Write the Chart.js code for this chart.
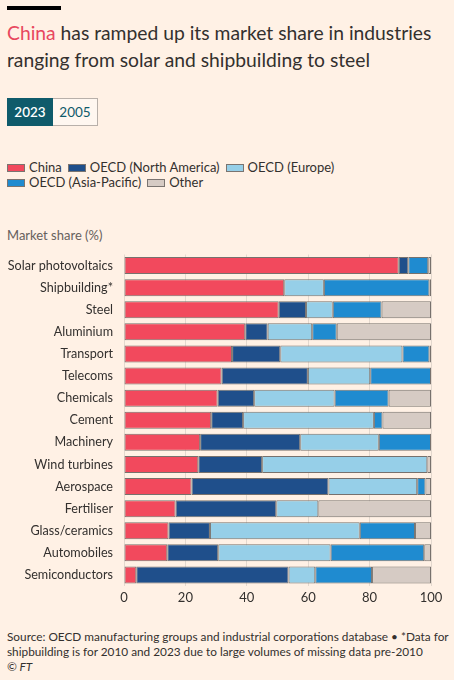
<!DOCTYPE html>
<html>
<head>
<meta charset="utf-8">
<script src="https://cdn.jsdelivr.net/npm/chart.js@4.4.1/dist/chart.umd.min.js"></script>
<style>
  body { margin: 0; background: #fff1e5; font-family: Lato, sans-serif; color: #33302e; }
  #page { position: relative; width: 454px; height: 680px; overflow: hidden; }
  .topbar { position: absolute; left: 7px; top: 6px; width: 54px; height: 4px; background: #000; }
  .title { position: absolute; left: 7px; top: 19px; width: 445px; font-size: 19.3px; line-height: 27px; }
  .title .hl { color: #e8475e; }
  .btns { position: absolute; left: 7px; top: 98px; display: flex; font-size: 13.5px; }
  .btn { width: 44px; height: 26px; line-height: 26px; text-align: center; border: 1px solid #0f5b6b; }
  .btn.on { background: #0f5b6b; color: #fff; font-weight: 600; }
  .btn.off { background: #fff7f0; color: #0f5b6b; border-color: #b8b0aa; border-left: none; }
  .legend { position: absolute; left: 7px; top: 160px; width: 440px; font-size: 13px; line-height: 15px; }
  .legend span.item { display: inline-block; margin-right: 6px; white-space: nowrap; }
  .legend i { display: inline-block; width: 18px; height: 8px; margin-right: 4px; border: 1px solid #7a7470; box-sizing: border-box; vertical-align: 0px; }
  .unit { position: absolute; left: 7px; top: 227px; font-size: 13px; color: #66605c; }
  #wrap { position: absolute; left: 0; top: 250px; width: 454px; height: 360px; }
  .source { position: absolute; left: 7px; top: 629px; width: 445px; font-size: 11.8px; line-height: 15px; }
</style>
</head>
<body>
<div id="page">
  <div class="topbar"></div>
  <div class="title"><span class="hl">China</span> has ramped up its market share in industries ranging from solar and shipbuilding to steel</div>
  <div class="btns"><div class="btn on">2023</div><div class="btn off">2005</div></div>
  <div class="legend" id="legend"></div>
  <div class="unit">Market share (%)</div>
  <div id="wrap"><canvas id="myChart"></canvas></div>
  <div class="source">Source: OECD manufacturing groups and industrial corporations database &bull; *Data for shipbuilding is for 2010 and 2023 due to large volumes of missing data pre-2010<br><i>&copy; FT</i></div>
</div>
<script>
var industries = ["Solar photovoltaics", "Shipbuilding*", "Steel", "Aluminium", "Transport", "Telecoms",
    "Chemicals", "Cement", "Machinery", "Wind turbines", "Aerospace", "Fertiliser",
    "Glass/ceramics", "Automobiles", "Semiconductors"];

var china =       [89.5, 52.2, 50.4, 39.5, 35.2, 31.8, 30.5, 28.4, 24.8, 24.2, 22.0, 16.8, 14.5, 14.1, 4.0];
var northAmerica = [3.1, 0.0, 8.9, 7.3, 15.7, 28.1, 11.9, 10.4, 32.6, 20.8, 44.6, 32.8, 13.5, 16.6, 49.6];
var europe =       [0.0, 12.9, 8.7, 14.5, 39.8, 20.3, 26.2, 42.6, 25.6, 53.8, 28.9, 13.7, 48.8, 36.6, 8.7];
var asiaPacific =  [6.5, 34.4, 15.9, 8.0, 8.8, 19.8, 17.6, 2.8, 17.0, 0.0, 2.7, 0.0, 18.0, 30.5, 18.5];
var other =        [0.9, 0.5, 16.1, 30.7, 0.5, 0.0, 13.8, 15.8, 0.0, 1.2, 1.8, 36.7, 5.2, 2.2, 19.2];

var xTicks = [0, 20, 40, 60, 80, 100];

var seriesNames = ["China", "OECD (North America)", "OECD (Europe)", "OECD (Asia-Pacific)", "Other"];
var seriesData = [china, northAmerica, europe, asiaPacific, other];
var colors = ["#f2495d", "#1f4f8b", "#96cfe8", "#1f8bd0", "#d6cbc4"];

// legend
var legendHtml = '';
for (var i = 0; i < seriesNames.length; i++) {
    legendHtml += '<span class="item"><i style="background:' + colors[i] + '"></i>' + seriesNames[i] + '</span>';
    if (i == 2) {
        legendHtml += '<br>';
    }
}
document.getElementById('legend').innerHTML = legendHtml;

var datasets = [];
for (var i = 0; i < seriesNames.length; i++) {
    datasets.push({
        label: seriesNames[i],
        data: seriesData[i],
        backgroundColor: colors[i],
        borderColor: "#77716d",
        borderWidth: 1,
        borderSkipped: false,
        barPercentage: 0.77,
        categoryPercentage: 1.0
    });
}

var ctx = document.getElementById("myChart");
var myChart = new Chart(ctx, {
    type: 'bar',
    data: {
        labels: industries,
        datasets: datasets
    },
    options: {
        indexAxis: 'y',
        responsive: true,
        maintainAspectRatio: false,
        animation: false,
        layout: {
            padding: {left: 0, right: 23, top: 4.5, bottom: 0}
        },
        plugins: {
            legend: {display: false},
            tooltip: {enabled: false}
        },
        scales: {
            x: {
                stacked: true,
                min: 0,
                max: 100,
                afterBuildTicks: function (scale) {
                    scale.ticks = xTicks.map(function (v) { return {value: v}; });
                },
                afterFit: function (scale) {
                    scale.height = 24;
                },
                grid: {color: "#e3d8ce", drawTicks: false},
                border: {display: false},
                ticks: {
                    padding: 4,
                    color: "#33302e",
                    font: {family: "Lato", size: 13}
                }
            },
            y: {
                stacked: true,
                afterFit: function (scale) {
                    scale.width = 124;
                    scale.paddingTop = 0;
                    scale.paddingBottom = 0;
                },
                grid: {display: false, drawTicks: false},
                border: {display: false},
                ticks: {
                    padding: 11,
                    color: "#33302e",
                    font: {family: "Lato", size: 12.6}
                }
            }
        }
    }
});
</script>
</body>
</html>
